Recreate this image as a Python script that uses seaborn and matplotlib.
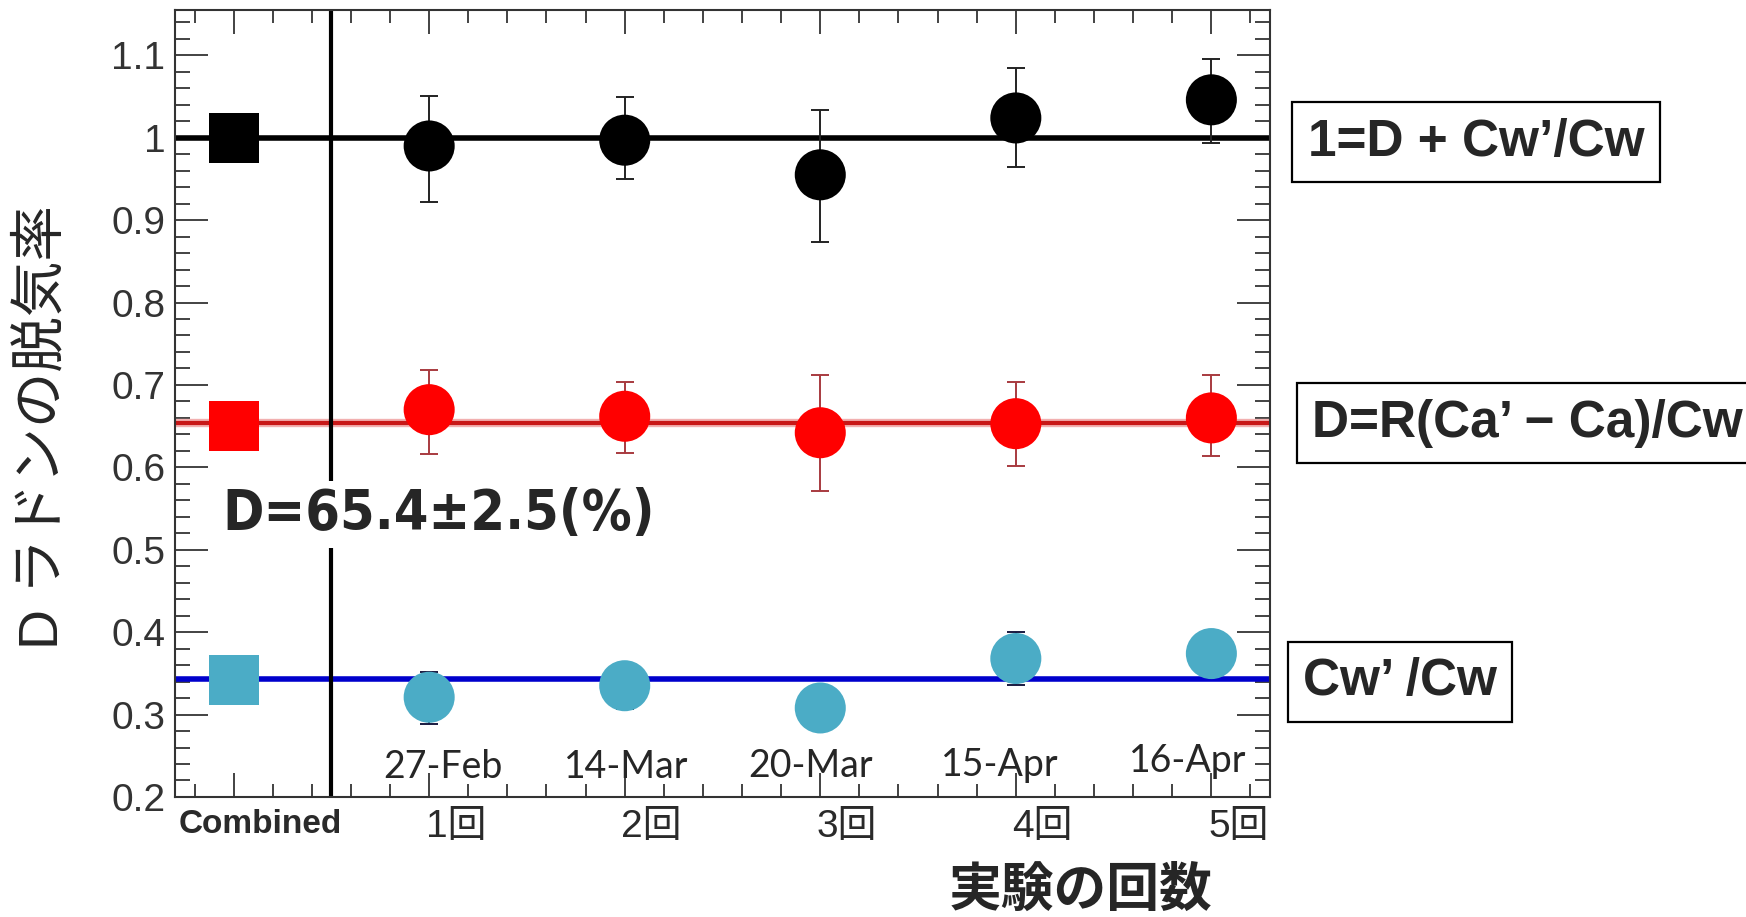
import numpy as np
import pandas as pd
import matplotlib
matplotlib.use("Agg")
import matplotlib.pyplot as plt
import matplotlib.transforms as mtransforms
from matplotlib import font_manager as fm
from matplotlib.ticker import MultipleLocator, FixedLocator
import seaborn as sns

# data
categories = ["Combined", "1回", "2回", "3回", "4回", "5回"]
dates = ["27-Feb", "14-Mar", "20-Mar", "15-Apr", "16-Apr"]
date_x = [1.07, 2.01, 2.95, 3.92, 4.88]
date_y = [0.223, 0.223, 0.224, 0.226, 0.230]

series = ["total", "D", "Cw"]
fit_lines = [1.0, 0.654, 0.343]
combined = [1.0, 0.650, 0.342]

total_val = [0.990, 0.997, 0.955, 1.024, 1.046]
total_lo = [0.922, 0.950, 0.873, 0.964, 0.994]
total_hi = [1.051, 1.049, 1.034, 1.085, 1.095]

d_val = [0.670, 0.662, 0.642, 0.653, 0.660]
d_lo = [0.616, 0.617, 0.571, 0.602, 0.614]
d_hi = [0.718, 0.704, 0.712, 0.703, 0.712]

cw_val = [0.321, 0.335, 0.308, 0.368, 0.374]
cw_lo = [0.289, 0.307, 0.281, 0.336, 0.349]
cw_hi = [0.352, 0.363, 0.335, 0.400, 0.399]

yticks = [0.2, 0.3, 0.4, 0.5, 0.6, 0.7, 0.8, 0.9, 1.0, 1.1]
ytick_labels = ["0.2", "0.3", "0.4", "0.5", "0.6", "0.7", "0.8", "0.9", "1", "1.1"]

marker_colors = {"total": "black", "D": "#ff0000", "Cw": "#4bacc6"}
line_colors = {"total": "black", "D": "#c81818", "Cw": "#0000cc"}
err_colors = {"total": "#222222", "D": "#a83a3f", "Cw": "#1a1a40"}

sns.set_style("ticks")
plt.rcParams['font.family'] = ['Liberation Sans', 'Noto Sans CJK JP']

# pick a narrow bold face for the big annotation if one exists
narrow = None
for f in fm.fontManager.ttflist:
    if f.name == "Liberation Sans Narrow":
        narrow = dict(family=["Liberation Sans Narrow"], fontsize=51)
        break
if narrow is None:
    for f in fm.fontManager.ttflist:
        if f.name == "DejaVu Sans" and "condensed" in str(f.stretch).lower():
            narrow = dict(family=["DejaVu Sans"], fontstretch="condensed", fontsize=40)
            break
if narrow is None:
    narrow = dict(family=["Liberation Sans"], fontsize=42)

runs = list(range(1, 6))
df = pd.DataFrame({
    "run": runs * 3,
    "value": total_val + d_val + cw_val,
    "lo": total_lo + d_lo + cw_lo,
    "hi": total_hi + d_hi + cw_hi,
    "series": ["total"] * 5 + ["D"] * 5 + ["Cw"] * 5,
})
comb = pd.DataFrame({"run": [0, 0, 0], "value": combined, "series": series})

fig = plt.figure(figsize=(17.46, 9.17), dpi=100)
ax = fig.add_axes([0.1002, 0.1309, 0.6272, 0.8582])

# fit lines
for s, v in zip(series, fit_lines):
    if s == "D":
        ax.axhline(v, color="#f2b0b0", lw=6, zorder=2)
        ax.axhline(v, color=line_colors[s], lw=3, zorder=2)
    else:
        ax.axhline(v, color=line_colors[s], lw=4, zorder=2)
ax.axvline(0.5, color="black", lw=3, zorder=2)

# error bars
for s in series:
    sub = df[df.series == s]
    ax.errorbar(sub.run, sub.value, yerr=[sub.value - sub.lo, sub.hi - sub.value],
                fmt="none", ecolor=err_colors[s], elinewidth=1.4, capsize=6.5,
                capthick=1.4, zorder=3)

sns.scatterplot(data=df, x="run", y="value", hue="series", palette=marker_colors,
                marker="o", s=1350, linewidth=0, legend=False, ax=ax, zorder=4)
sns.scatterplot(data=comb, x="run", y="value", hue="series", palette=marker_colors,
                marker="s", s=1300, linewidth=0, legend=False, ax=ax, zorder=4)

ax.set_xlim(-0.3, 5.3)
ax.set_ylim(0.2, 1.155)
ax.set_xticks(range(len(categories)))
ax.set_xticklabels(categories)
ax.xaxis.set_minor_locator(MultipleLocator(0.2))
ax.yaxis.set_major_locator(FixedLocator(yticks))
ax.set_yticklabels(ytick_labels)
ax.yaxis.set_minor_locator(MultipleLocator(0.02))

ax.tick_params(axis="both", which="both", direction="in", top=True, right=True,
               color="#222222", width=1.2)
ax.tick_params(axis="y", which="major", length=24, labelsize=28, labelcolor="#333333", pad=7)
ax.tick_params(axis="y", which="minor", length=11)
ax.tick_params(axis="x", which="major", length=17, labelsize=28, labelcolor="#2a2a2a", pad=9)
ax.tick_params(axis="x", which="minor", length=9.5)
for sp in ax.spines.values():
    sp.set_linewidth(1.5)
    sp.set_color("#333333")

shift = mtransforms.ScaledTranslation(0.27, 0, fig.dpi_scale_trans)
for lbl in ax.get_xticklabels():
    lbl.set_transform(lbl.get_transform() + shift)
ax.get_xticklabels()[0].set_fontweight("bold")
ax.get_xticklabels()[0].set_fontsize(24)

ax.set_xlabel("実験の回数", fontsize=38, fontweight="bold")
ax.xaxis.set_label_coords(0.827, -0.088)
ax.set_ylabel("D ラドンの脱気率", fontsize=40)
ax.yaxis.set_label_coords(-0.096, 0.47)

for lab, x, y in zip(dates, date_x, date_y):
    ax.text(x, y, lab, ha="center", va="baseline", fontsize=27,
            family=["Lato", "DejaVu Sans"], zorder=5)

ax.text(-0.058, 0.543, "D=65.4±2.5(%)", ha="left", va="center",
        fontweight="bold", bbox=dict(facecolor="white", edgecolor="none", pad=5),
        zorder=6, **narrow)

box = dict(boxstyle="square,pad=0.3", facecolor="white", edgecolor="black", lw=1.6)
fig.text(0.8454, 0.8451, "1=D + Cw’/Cw", ha="center", va="center", fontsize=37,
         fontweight="bold", bbox=box)
fig.text(0.7514, 0.5387, "D=R(Ca’ − Ca)/Cw", ha="left", va="center", fontsize=37,
         fontweight="bold", bbox=box)
fig.text(0.8018, 0.2563, "Cw’ /Cw", ha="center", va="center", fontsize=37,
         fontweight="bold", bbox=box)

fig.savefig("out.png", dpi=100, facecolor="white")
